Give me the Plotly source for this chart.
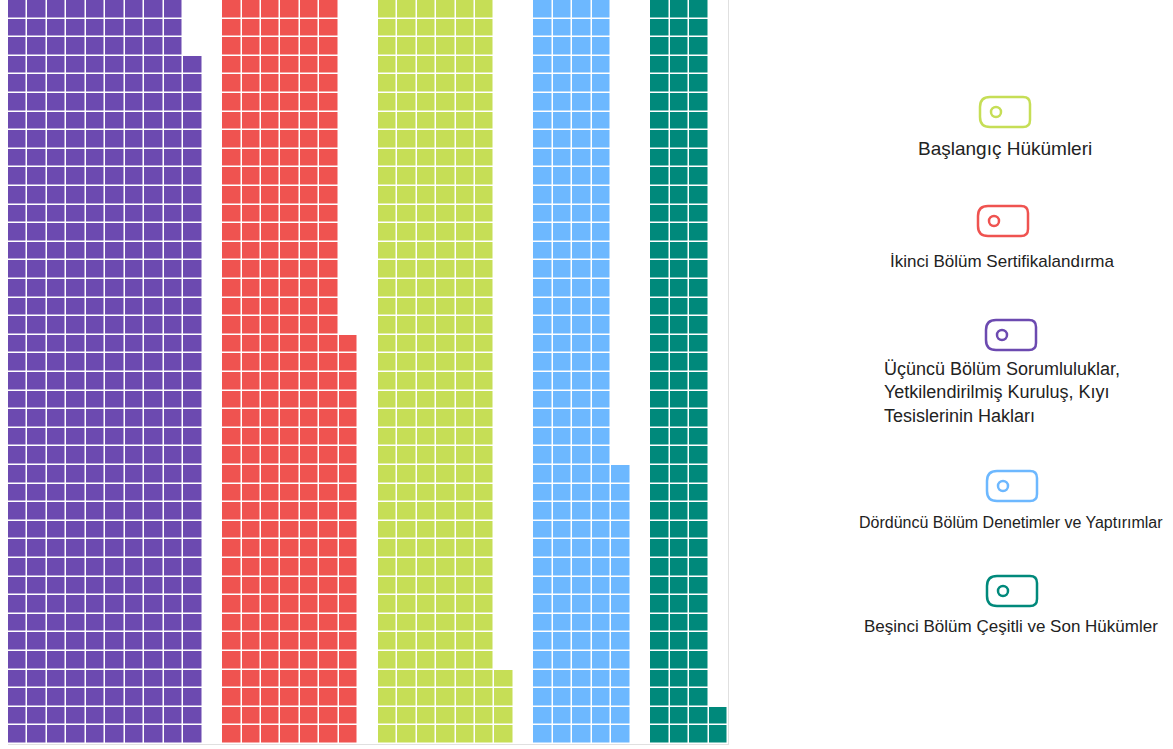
import math
import numpy as np
import plotly.graph_objects as go

# ---- data ----
categories = [
    "Başlangıç Hükümleri",
    "İkinci Bölüm Sertifikalandırma",
    "Üçüncü Bölüm Sorumluluklar,<br>Yetkilendirilmiş Kuruluş, Kıyı<br>Tesislerinin Hakları",
    "Dördüncü Bölüm Denetimler ve Yaptırımlar",
    "Beşinci Bölüm Çeşitli ve Son Hükümler",
]
values = [244, 262, 397, 175, 122]
colors = ["#C6DE56", "#EF5350", "#6C4AB0", "#6DB8FF", "#00897B"]
ROWS = 40

# ---- waffle grid (groups ordered by value, descending) ----
order = sorted(range(len(values)), key=lambda i: -values[i])
columns = []
for gi, idx in enumerate(order):
    v = values[idx]
    ncols = math.ceil(v / ROWS)
    for c in range(ncols):
        cnt = min(ROWS, v - c * ROWS)
        col = [idx if r < cnt else np.nan for r in range(ROWS)]
        columns.append(col)
    if gi < len(order) - 1:
        columns.append([np.nan] * ROWS)
z = np.array(columns, dtype=float).T  # rows x cols

n = len(values)
colorscale = []
for i, c in enumerate(colors):
    colorscale.append([i / n, c])
    colorscale.append([(i + 1) / n, c])

fig = go.Figure(go.Heatmap(
    z=z, colorscale=colorscale, zmin=-0.5, zmax=n - 0.5,
    showscale=False, xgap=1.5, ygap=1.5, hoverinfo="skip",
))

W, H = 1173, 749
L, R, T, B = 8, 445, 0, 5
PW, PH = W - L - R, H - T - B

def xp(px):
    return (px - L) / PW

def yp(py):
    return 1 - (py - T) / PH

# legend layout (pixel positions)
icon_cx = [1005, 1003, 1011, 1012, 1012]
icon_cy = [112, 221, 335, 486, 591]
label_x = [1005, 1002, 882, 1011, 1011]
label_anchor = ["center", "center", "left", "center", "center"]
label_cy = [149, 261, 392, 522, 626]
label_size = [19, 17, 18, 16, 17]

shapes = []
annotations = []
for i in range(n):
    cx, cy = icon_cx[i], icon_cy[i]
    x0, x1 = cx - 25, cx + 25
    y0, y1 = cy - 15, cy + 15
    rl, rr = 10, 7
    path = (
        f"M {xp(x0 + rl)} {yp(y0)} L {xp(x1 - rr)} {yp(y0)} "
        f"Q {xp(x1)} {yp(y0)} {xp(x1)} {yp(y0 + rr)} "
        f"L {xp(x1)} {yp(y1 - rr)} Q {xp(x1)} {yp(y1)} {xp(x1 - rr)} {yp(y1)} "
        f"L {xp(x0 + rl)} {yp(y1)} Q {xp(x0)} {yp(y1)} {xp(x0)} {yp(y1 - rl)} "
        f"L {xp(x0)} {yp(y0 + rl)} Q {xp(x0)} {yp(y0)} {xp(x0 + rl)} {yp(y0)} Z"
    )
    shapes.append(dict(type="path", xref="paper", yref="paper", path=path,
                       line=dict(color=colors[i], width=2.5), fillcolor="rgba(0,0,0,0)"))
    ccx, ccy = x0 + 16, cy
    shapes.append(dict(type="circle", xref="paper", yref="paper",
                       x0=xp(ccx - 5), x1=xp(ccx + 5), y0=yp(ccy + 5), y1=yp(ccy - 5),
                       line=dict(color=colors[i], width=2.5), fillcolor="rgba(0,0,0,0)"))
    annotations.append(dict(
        text=categories[i], xref="paper", yref="paper",
        x=xp(label_x[i]), y=yp(label_cy[i]), xanchor=label_anchor[i], yanchor="middle",
        showarrow=False, align="left",
        font=dict(family="Liberation Sans, Arial, sans-serif", size=label_size[i], color="#222222"),
    ))

fig.update_layout(
    width=W, height=H,
    margin=dict(l=L, r=R, t=T, b=B, pad=0),
    paper_bgcolor="white", plot_bgcolor="white",
    xaxis=dict(range=[-0.5, z.shape[1] - 0.5], showgrid=False, zeroline=False,
               showticklabels=False, ticks="", showline=True, linecolor="#e0e0e0",
               linewidth=1, fixedrange=True),
    yaxis=dict(range=[-0.5, ROWS - 0.5], showgrid=False, zeroline=False,
               showticklabels=False, ticks="", showline=True, linecolor="#e0e0e0",
               linewidth=1, side="right", fixedrange=True),
    shapes=shapes, annotations=annotations, showlegend=False,
)

fig.write_html("out.html", config={"displayModeBar": False})
